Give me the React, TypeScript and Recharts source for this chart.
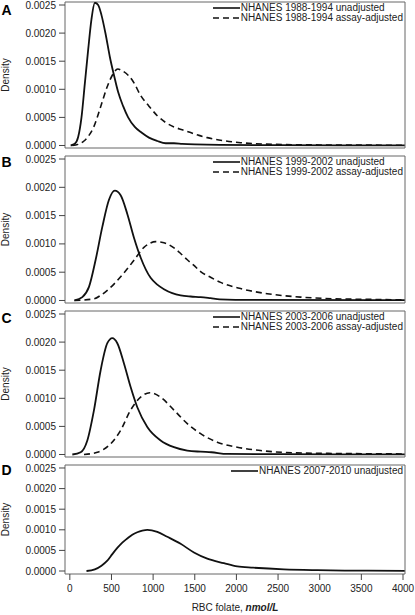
import { LineChart, Line, XAxis, YAxis, ReferenceArea, Legend } from 'recharts';

// x ticks (nmol/L) and y ticks (density)
const xTicks = [0, 500, 1000, 1500, 2000, 2500, 3000, 3500, 4000];
const yTicks = [0, 0.0005, 0.001, 0.0015, 0.002, 0.0025];

// density curves, [RBC folate, density]
const a8894Unadjusted = [
  [10, 0], [60, 0.00003], [100, 0.00015], [140, 0.0005], [180, 0.0011], [220, 0.0017],
  [260, 0.00225], [300, 0.00254], [340, 0.0025], [380, 0.00232], [430, 0.00198],
  [480, 0.00158], [530, 0.00125], [580, 0.00095], [640, 0.0007], [700, 0.0005],
  [780, 0.00033], [860, 0.00023], [950, 0.00014], [1050, 0.00008], [1150, 0.00004],
  [1250, 0.00004], [1350, 0.00003], [1500, 0.00002], [1800, 0.00001], [2500, 0.000005],
  [4020, 0.000003],
];
const a8894Adjusted = [
  [30, 0], [100, 0.00002], [170, 0.00008], [230, 0.00018], [290, 0.00034], [370, 0.00069],
  [450, 0.00105], [510, 0.00125], [575, 0.00136], [640, 0.00132], [700, 0.00125],
  [760, 0.00114], [850, 0.00089], [950, 0.0007], [1050, 0.00053], [1150, 0.00041],
  [1250, 0.00033], [1350, 0.00028], [1450, 0.00023], [1550, 0.00018], [1650, 0.00014],
  [1850, 0.000085], [2050, 0.00005], [2450, 0.00002], [3000, 0.00001], [4020, 0.000005],
];
const b9902Unadjusted = [
  [55, 0], [150, 0.00006], [230, 0.00024], [310, 0.00072], [390, 0.0013], [470, 0.00178],
  [540, 0.00194], [610, 0.00186], [690, 0.00153], [770, 0.00111], [850, 0.00076],
  [970, 0.0004], [1050, 0.00028], [1130, 0.0002], [1230, 0.00013], [1330, 0.00009],
  [1450, 0.00007], [1570, 0.00006], [1690, 0.00004], [1800, 0.00002], [2200, 0.00001],
  [4020, 0.000005],
];
const b9902Adjusted = [
  [55, 0], [290, 0.00003], [370, 0.00009], [450, 0.00018], [530, 0.00029], [610, 0.00042],
  [690, 0.00056], [770, 0.00071], [890, 0.00094], [960, 0.00101], [1030, 0.00104],
  [1100, 0.00103], [1170, 0.001], [1250, 0.00093], [1330, 0.00083], [1410, 0.00072],
  [1490, 0.00062], [1570, 0.00051], [1690, 0.00041], [1810, 0.00032], [2050, 0.00021],
  [2370, 0.00012], [2770, 0.00006], [3170, 0.00003], [3600, 0.00002], [4020, 0.00001],
];
const c0306Unadjusted = [
  [30, 0], [130, 0.00004], [210, 0.00025], [290, 0.00079], [370, 0.0015], [450, 0.00198],
  [510, 0.00207], [570, 0.00198], [650, 0.00162], [730, 0.0012], [810, 0.00084],
  [930, 0.00049], [1090, 0.00025], [1250, 0.00013], [1410, 0.00007], [1570, 0.00005],
  [1700, 0.00004], [1890, 0.00001], [2500, 0.000005], [4020, 0.000003],
];
const c0306Adjusted = [
  [170, 0], [330, 0.00004], [490, 0.00019], [610, 0.00043], [730, 0.00079], [850, 0.00102],
  [960, 0.0011], [1090, 0.00102], [1250, 0.00079], [1410, 0.00055], [1570, 0.00037],
  [1770, 0.00022], [2010, 0.00013], [2290, 0.00007], [2690, 0.00003], [3100, 0.00002],
  [4020, 0.00001],
];
const d0710Unadjusted = [
  [200, 0], [300, 0.00004], [380, 0.00013], [450, 0.00025], [510, 0.00041], [570, 0.00056],
  [630, 0.00069], [690, 0.00079], [750, 0.00088], [810, 0.00094], [870, 0.00098],
  [930, 0.001], [1050, 0.00095], [1170, 0.00083], [1330, 0.00066], [1490, 0.00045],
  [1650, 0.0003], [1850, 0.00019], [2010, 0.00011], [2200, 0.00008], [2570, 0.00004],
  [2970, 0.00002], [3300, 0.00001], [4020, 0.000005],
];

const xDomain: [number, number] = [-58, 4024];
const yDomainTall: [number, number] = [-0.0000445, 0.0025534];
const yDomainShort: [number, number] = [-0.0000728, 0.0025728];

const toPoints = (pairs: number[][]) => pairs.map(([x, y]) => ({ x, y }));

type Series = { name: string; values: number[][]; dashed: boolean };

const panels = [
  {
    letter: 'A', top: 0, height: 150, bottom: 2, letterDy: 13, yDomain: yDomainTall, showX: false,
    series: [
      { name: 'NHANES 1988-1994 unadjusted', values: a8894Unadjusted, dashed: false },
      { name: 'NHANES 1988-1994 assay-adjusted', values: a8894Adjusted, dashed: true },
    ],
  },
  {
    letter: 'B', top: 154, height: 151, bottom: 2, letterDy: 11, yDomain: yDomainTall, showX: false,
    series: [
      { name: 'NHANES 1999-2002 unadjusted', values: b9902Unadjusted, dashed: false },
      { name: 'NHANES 1999-2002 assay-adjusted', values: b9902Adjusted, dashed: true },
    ],
  },
  {
    letter: 'C', top: 309, height: 150, bottom: 2, letterDy: 12, yDomain: yDomainTall, showX: false,
    series: [
      { name: 'NHANES 2003-2006 unadjusted', values: c0306Unadjusted, dashed: false },
      { name: 'NHANES 2003-2006 assay-adjusted', values: c0306Adjusted, dashed: true },
    ],
  },
  {
    letter: 'D', top: 463, height: 152, bottom: 0, letterDy: 10, yDomain: yDomainShort, showX: true,
    series: [
      { name: 'NHANES 2007-2010 unadjusted', values: d0710Unadjusted, dashed: false },
    ],
  },
];

const INK = '#111';
const DASH = '6 4';

const LegendBox = ({ series }: { series: Series[] }) => (
  <div style={{ display: 'flex', flexDirection: 'column', alignItems: 'flex-start' }}>
    {series.map((s) => (
      <div key={s.name} style={{ display: 'flex', alignItems: 'center', height: 10.5 }}>
        <svg width={27} height={4} style={{ display: 'block', marginRight: 1 }}>
          <line x1={0} x2={27} y1={2} y2={2} stroke={INK} strokeWidth={1.6}
            strokeDasharray={s.dashed ? DASH : undefined} />
        </svg>
        <span style={{ fontSize: 10, lineHeight: '10.5px', color: '#222', whiteSpace: 'nowrap' }}>{s.name}</span>
      </div>
    ))}
  </div>
);

const XLabel = (props: any) => {
  const vb = props.viewBox || {};
  return (
    <text x={vb.x + vb.width / 2} y={vb.y + 37} textAnchor="middle" fontSize={10} fill="#222">
      <tspan>RBC folate, </tspan>
      <tspan fontWeight="bold" fontStyle="italic">nmol/L</tspan>
    </text>
  );
};

const makeYLabel = (letter: string, letterDy: number) => (props: any) => {
  const vb = props.viewBox || {};
  const cy = vb.y + vb.height / 2;
  return (
    <g>
      <text x={8.5} y={cy} transform={`rotate(-90 8.5 ${cy})`} textAnchor="middle" fontSize={10} fill="#222">
        Density
      </text>
      <text x={1.5} y={vb.y + letterDy} fontSize={14} fontWeight="bold" fill="#000">
        {letter}
      </text>
    </g>
  );
};

export default function App() {
  return (
    <div
      style={{
        position: 'absolute', left: 0, top: 0, width: 415, height: 615, background: '#fff',
        fontFamily: '"Liberation Sans", Arial, Helvetica, sans-serif',
      }}
    >
      {panels.map((p) => (
        <div key={p.letter} style={{ position: 'absolute', left: 0, top: p.top }}>
          <LineChart width={415} height={p.height} margin={{ top: 2, right: 10, bottom: p.bottom, left: 0 }}>
            <XAxis
              type="number"
              dataKey="x"
              domain={xDomain}
              allowDataOverflow
              ticks={xTicks}
              interval={0}
              hide={!p.showX}
              height={41}
              axisLine={false}
              tickLine={{ stroke: '#444' }}
              tickSize={6}
              tickMargin={5}
              tick={{ fontSize: 10, fill: '#222' }}
              label={p.showX ? (props: any) => <XLabel {...props} /> : undefined}
            />
            <YAxis
              type="number"
              domain={p.yDomain}
              allowDataOverflow
              ticks={yTicks}
              interval={0}
              width={65}
              axisLine={false}
              tickLine={{ stroke: '#444' }}
              tickSize={6}
              tickMargin={3}
              tick={{ fontSize: 10, fill: '#222' }}
              tickFormatter={(v: number) => v.toFixed(4)}
              label={makeYLabel(p.letter, p.letterDy)}
            />
            <ReferenceArea
              x1={xDomain[0]}
              x2={xDomain[1]}
              y1={p.yDomain[0]}
              y2={p.yDomain[1]}
              fill="none"
              stroke="#666"
              strokeWidth={1}
              ifOverflow="visible"
            />
            {p.series.map((s) => (
              <Line
                key={s.name}
                name={s.name}
                data={toPoints(s.values)}
                dataKey="y"
                type="monotone"
                stroke={INK}
                strokeWidth={s.dashed ? 1.6 : 1.8}
                strokeDasharray={s.dashed ? DASH : undefined}
                dot={false}
                activeDot={false}
                isAnimationActive={false}
              />
            ))}
            <Legend
              layout="horizontal"
              verticalAlign="middle"
              align="center"
              wrapperStyle={{ top: 2.5, right: 12, left: 'auto', width: 'auto', height: 'auto' }}
              content={() => <LegendBox series={p.series} />}
            />
          </LineChart>
        </div>
      ))}
    </div>
  );
}
